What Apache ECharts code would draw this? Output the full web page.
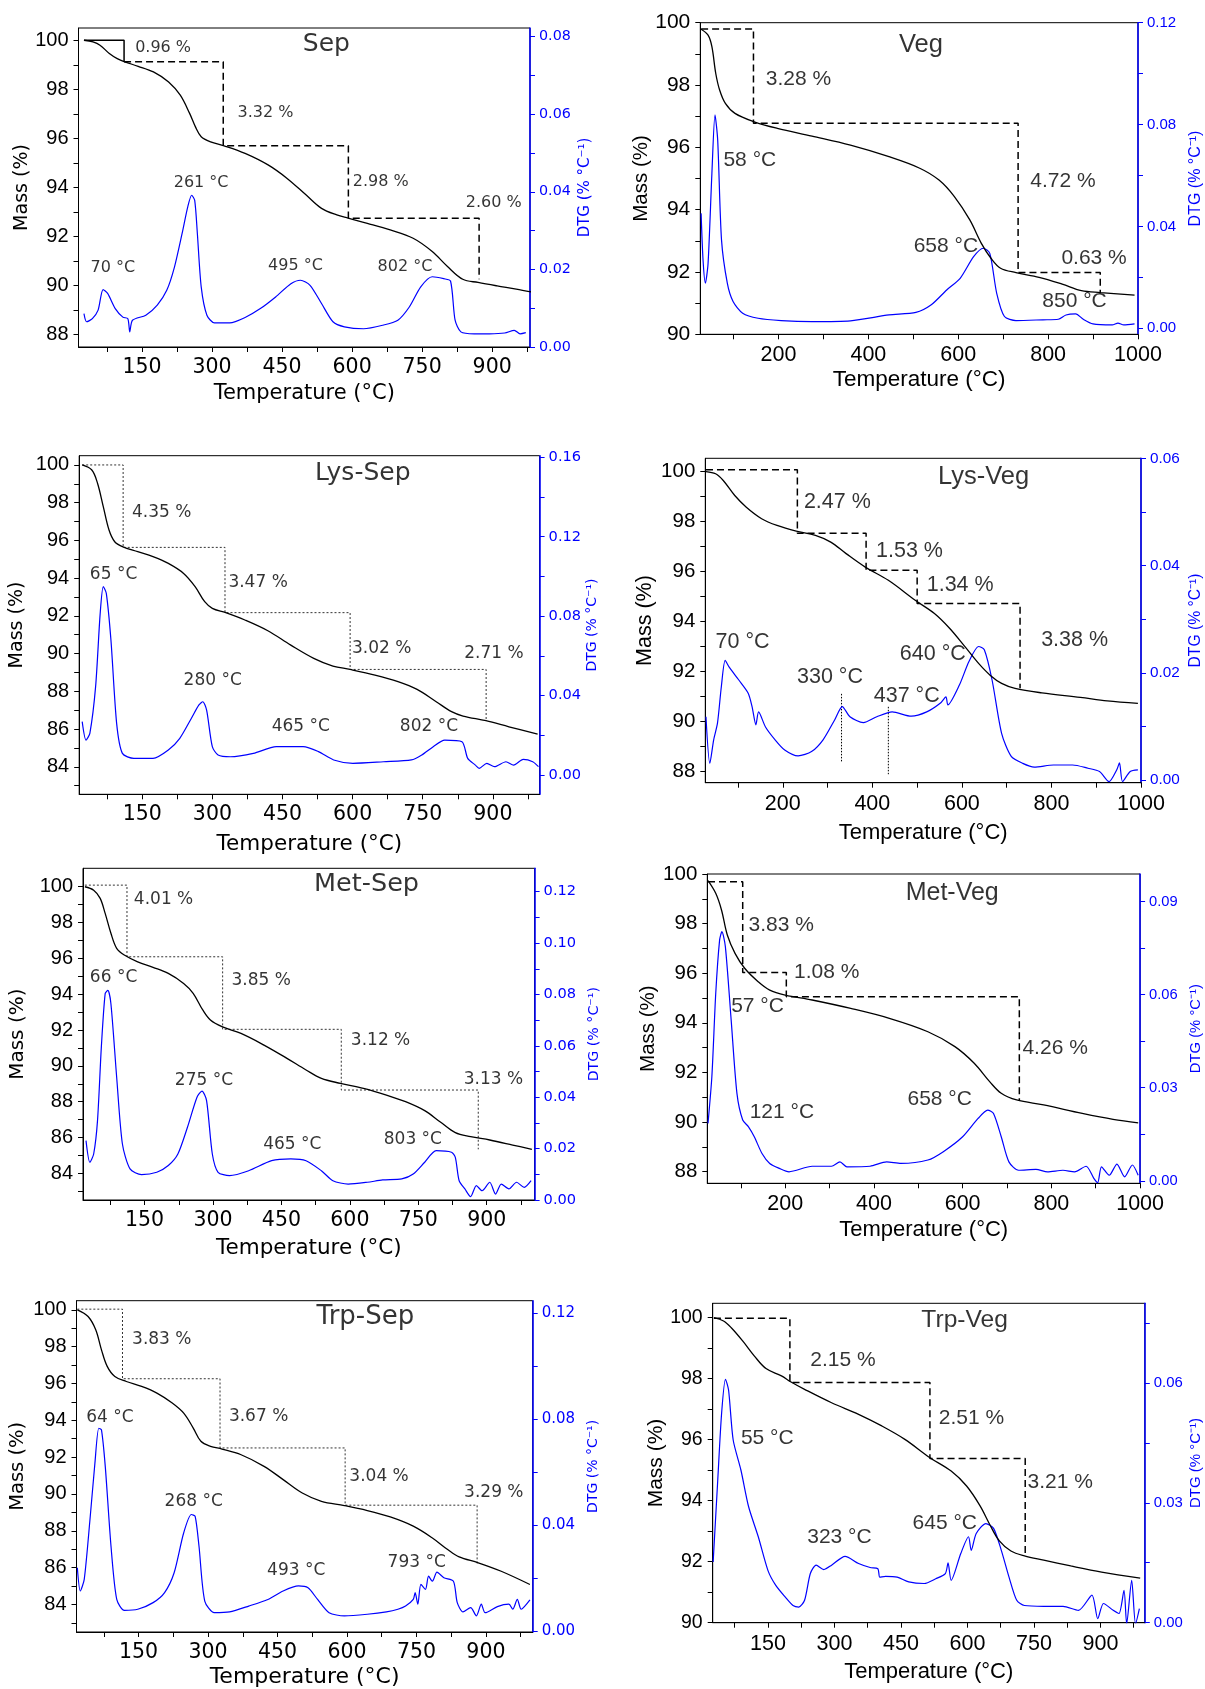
<!DOCTYPE html>
<html><head><meta charset="utf-8">
<script src="https://cdn.jsdelivr.net/npm/echarts@6/dist/echarts.min.js"></script>
<style>html,body{margin:0;padding:0;background:#fff}#c{width:1205px;height:1689px}</style>
</head><body><div id="c"></div><script>
// ---------------- tick labels ----------------
const xLabels150 = [150,300,450,600,750,900];
const xTicks75 = [75,150,225,300,375,450,525,600,675,750,825,900,975];
const xLabels200 = [200,400,600,800,1000];
const xTicks100 = [100,200,300,400,500,600,700,800,900,1000];
const massLabels88 = [88,90,92,94,96,98,100];
const massTicks88 = [88,89,90,91,92,93,94,95,96,97,98,99,100];
const massLabels90 = [90,92,94,96,98,100];
const massTicks90 = [90,91,92,93,94,95,96,97,98,99,100];
const massLabels84 = [84,86,88,90,92,94,96,98,100];
const massTicks83 = [83,84,85,86,87,88,89,90,91,92,93,94,95,96,97,98,99,100];
const dtgLabelsSep = [0,0.02,0.04,0.06,0.08];
const dtgTicksSep = [0,0.01,0.02,0.03,0.04,0.05,0.06,0.07,0.08];
const dtgLabelsVeg = [0,0.04,0.08,0.12];
const dtgTicksVeg = [0,0.02,0.04,0.06,0.08,0.10,0.12];
const dtgLabelsLysSep = [0,0.04,0.08,0.12,0.16];
const dtgTicksLysSep = [0,0.02,0.04,0.06,0.08,0.10,0.12,0.14,0.16];
const dtgLabelsLysVeg = [0,0.02,0.04,0.06];
const dtgTicksLysVeg = [0,0.01,0.02,0.03,0.04,0.05,0.06];
const dtgLabelsMetSep = [0,0.02,0.04,0.06,0.08,0.10,0.12];
const dtgTicksMetSep = [0,0.01,0.02,0.03,0.04,0.05,0.06,0.07,0.08,0.09,0.10,0.11,0.12];
const dtgLabelsMetVeg = [0,0.03,0.06,0.09];
const dtgTicksMetVeg = [0,0.015,0.03,0.045,0.06,0.075,0.09];
const dtgLabelsTrpSep = [0,0.04,0.08,0.12];
const dtgTicksTrpSep = [0,0.02,0.04,0.06,0.08,0.10,0.12];
const dtgLabelsTrpVeg = [0,0.03,0.06];
const dtgTicksTrpVeg = [0,0.015,0.03,0.045,0.06,0.075];

// ---------------- Sep ----------------
const sepMass = [[25.7,100],[45,99.93],[60,99.8],[80,99.46],[97,99.25],[113,99.12],[141.8,98.94],[174.5,98.71],[207,98.3],[232,97.76],[252,97.02],[264.5,96.47],[276.8,96.07],[297,95.86],[325.8,95.7],[370.8,95.39],[420,94.92],[460.8,94.37],[501.7,93.69],[534.5,93.15],[567.2,92.88],[591.7,92.75],[632.6,92.54],[681.6,92.27],[730.7,91.93],[771.6,91.39],[804.3,90.78],[837,90.26],[869.7,90.13],[910.6,89.99],[951.5,89.86],[985,89.74]];
const sepDtg = [[25.7,0.0086],[31.4,0.0065],[43.7,0.0073],[56,0.0095],[66.6,0.0148],[76.4,0.0138],[92.7,0.0099],[109,0.0077],[119.7,0.0073],[123.8,0.0039],[129.6,0.0069],[158.2,0.0082],[182.7,0.0108],[203,0.0146],[219.5,0.0206],[235.8,0.0292],[248,0.0361],[256.3,0.0391],[262.9,0.0378],[268.6,0.0292],[276.8,0.0155],[289,0.0082],[305.4,0.0062],[338,0.0062],[370.8,0.0076],[403.5,0.0099],[436.2,0.0129],[468.9,0.0163],[489.4,0.0172],[509.9,0.0159],[534.5,0.0112],[559,0.0065],[583.5,0.0052],[624.4,0.0047],[665.3,0.0056],[698,0.0069],[722.5,0.0103],[747,0.0155],[771.6,0.0181],[796.1,0.0176],[810.8,0.017],[820.6,0.0069],[832.9,0.0039],[861.5,0.0034],[894.2,0.0034],[926.9,0.0036],[947.4,0.0043],[959.7,0.0034],[972,0.0037]];
const sepStepsSolid = [[25.7,100],[111.6,100],[111.6,99.12]];
const sepSteps = [[111.6,99.12],[324,99.12],[324,95.7],[592,95.7],[592,92.75],[872,92.75],[872,90.26]];
const sepNotes = [[135.3,99.69,'0.96 %'],[354.5,97.04,'3.32 %'],[601.5,94.24,'2.98 %'],[843.5,93.36,'2.60 %'],[218,94.2,'261 °C'],[39.6,90.71,'70 °C'],[420,90.82,'495 °C'],[654.6,90.78,'802 °C']];
const sepTitle = [[545,99.84,'Sep']];

// ---------------- Veg ----------------
const vegMass = [[27.8,99.79],[43.3,99.6],[51.8,99.23],[60.4,98.37],[69,97.84],[81.8,97.41],[103.2,97.09],[146,96.82],[197.4,96.61],[274.5,96.36],[360.2,96.07],[445.8,95.7],[514.3,95.33],[557.2,94.95],[591.4,94.42],[625.7,93.67],[651.4,92.92],[672.8,92.44],[694.2,92.12],[728.5,91.98],[779.9,91.83],[831.3,91.61],[874.1,91.4],[917,91.34],[992.3,91.26]];
const vegDtg = [[27.8,0.0451],[32.1,0.0268],[37.3,0.0177],[43.3,0.0255],[51.8,0.0608],[58.7,0.0838],[64.7,0.0739],[73.2,0.0347],[86.1,0.0177],[98.9,0.0105],[120.3,0.0059],[154.6,0.0039],[206,0.003],[274.5,0.0026],[360.2,0.0029],[445.8,0.0052],[505.8,0.0062],[540,0.0092],[574.3,0.015],[604.3,0.0196],[634.2,0.0281],[655.7,0.0314],[670.2,0.0294],[685.6,0.0137],[702.8,0.0046],[728.5,0.003],[788.4,0.0033],[822.7,0.0035],[839.8,0.0052],[861.2,0.0056],[878.3,0.0035],[899.7,0.0017],[942.6,0.0013],[955.4,0.002],[968.3,0.0013],[992.3,0.0017]];
const vegSteps = [[27.8,99.8],[144.3,99.8],[144.3,96.77],[733.2,96.77],[733.2,91.98],[916,91.98],[916,91.32]];
const vegNotes = [[171.7,98.18,'3.28 %'],[760.2,94.9,'4.72 %'],[829.5,92.44,'0.63 %'],[77.5,95.59,'58 °C'],[500.8,92.83,'658 °C'],[787,91.05,'850 °C']];
const vegTitle = [[516.9,99.28,'Veg']];

// ---------------- Lys-Sep ----------------
const lysSepMass = [[21.4,100],[42,99.73],[54.2,99.03],[66.5,97.79],[78.8,96.55],[91,95.93],[107.4,95.67],[140.2,95.4],[172.9,95.14],[205.7,94.78],[238.4,94.25],[263,93.55],[283.5,92.75],[299.8,92.4],[328.5,92.17],[369.4,91.78],[418.6,91.21],[467.7,90.45],[516.8,89.75],[557.8,89.34],[594.6,89.16],[647.8,88.86],[697,88.51],[737.9,88.1],[778.8,87.45],[811.6,86.92],[836.2,86.69],[885.3,86.44],[934.4,86.12],[995.8,85.73]];
const lysSepDtg = [[21.4,0.0269],[29.6,0.0176],[37.8,0.021],[50.1,0.0445],[59.9,0.0814],[66.5,0.0949],[73,0.0915],[82.9,0.068],[95.1,0.026],[107.4,0.0109],[132,0.0084],[172.9,0.0084],[205.7,0.0126],[230.2,0.0185],[254.8,0.0285],[271.2,0.0353],[279.4,0.0369],[287.6,0.0327],[299.8,0.0143],[312.1,0.0101],[338.3,0.0092],[387.6,0.0109],[436.7,0.0143],[494,0.0143],[526.8,0.0118],[559.5,0.0076],[600.5,0.0059],[666,0.0067],[725.7,0.0076],[747.9,0.0101],[772.4,0.0143],[797,0.0176],[833.9,0.0168],[846.2,0.0084],[862.6,0.005],[870.7,0.0034],[887.1,0.0059],[903.5,0.0042],[928,0.0067],[944.4,0.005],[964.9,0.0079],[985.3,0.0067],[997.6,0.0042]];
const lysSepSteps = [[21.4,100],[109,100],[109,95.63],[326.9,95.63],[326.9,92.17],[594.6,92.17],[594.6,89.16],[885.6,89.16],[885.6,86.44]];
const lysSepNotes = [[127.9,97.47,'4.35 %'],[334.2,93.76,'3.47 %'],[598.7,90.28,'3.02 %'],[838.6,89.98,'2.71 %'],[37.8,94.17,'65 °C'],[238.4,88.57,'280 °C'],[426.8,86.13,'465 °C'],[701,86.13,'802 °C']];
const lysSepTitle = [[621.6,99.56,'Lys-Sep']];

// ---------------- Lys-Veg ----------------
const lysVegMass = [[28.5,100],[50,99.91],[67.1,99.64],[92.8,99.04],[118.6,98.57],[152.8,98.11],[187.1,97.84],[230,97.61],[272.9,97.44],[307.2,97.17],[341.5,96.71],[384.3,96.17],[435.8,95.64],[495.8,94.84],[538.7,94.31],[573,93.71],[607.3,92.97],[637.3,92.31],[663,91.84],[688.7,91.51],[718.7,91.31],[778.7,91.13],[864.5,90.95],[924.5,90.81],[993.1,90.71]];
const lysVegDtg = [[28.5,0.0118],[37.1,0.0031],[45.7,0.0075],[54.2,0.0106],[62.8,0.0174],[71.4,0.0223],[80,0.0211],[101.4,0.0187],[122.8,0.0162],[131.4,0.0137],[140,0.0103],[146,0.0127],[161.4,0.0099],[182.9,0.0075],[204.3,0.0056],[234.3,0.0045],[264.3,0.0053],[290,0.0075],[315.8,0.0112],[332.9,0.0137],[350,0.0118],[380,0.0107],[410,0.0118],[444.4,0.0127],[487.2,0.0119],[521.5,0.0127],[551.5,0.0143],[564.4,0.0155],[568.7,0.014],[594.4,0.0177],[615.8,0.0221],[637.3,0.0249],[650.1,0.0243],[667.3,0.0187],[688.7,0.0087],[710.2,0.0044],[735.9,0.0031],[761.6,0.0024],[804.5,0.0028],[847.3,0.0028],[881.6,0.0022],[907.3,0.0016],[928.7,-0.0003],[945.9,0.0019],[951.9,0.0032],[958.8,-0.0003],[975.9,0.0016],[993.1,0.0019]];
const lysVegSteps = [[28.5,100.07],[232.6,100.07],[232.6,97.53],[386.1,97.53],[386.1,96.04],[500.1,96.04],[500.1,94.71],[729.9,94.71],[729.9,91.31]];
const lysVegMarker330 = [[331.2,91.09],[331.2,88.37]];
const lysVegMarker437 = [[435.8,90.57],[435.8,87.87]];
const lysVegNotes = [[247.2,98.77,'2.47 %'],[408.3,96.81,'1.53 %'],[521.5,95.44,'1.34 %'],[777,93.24,'3.38 %'],[50,93.15,'70 °C'],[231.7,91.77,'330 °C'],[403.2,91.01,'437 °C'],[461.5,92.67,'640 °C']];
const lysVegTitle = [[648.4,99.8,'Lys-Veg']];

// ---------------- Met-Sep ----------------
const metSepMass = [[19.1,100],[38.4,99.81],[52.7,99.35],[63.6,98.51],[76.2,97.4],[88.8,96.56],[105.5,96.19],[134.9,95.81],[168.5,95.5],[202,95.16],[235.6,94.6],[256.5,94.05],[277.5,93.12],[294.3,92.56],[319.5,92.19],[361.4,91.81],[411.7,91.16],[462.1,90.42],[504,89.77],[537.6,89.3],[579.5,89.02],[629.9,88.74],[680.2,88.37],[722.1,88],[764.1,87.5],[797.6,86.88],[831.2,86.27],[864.7,86.05],[906.7,85.86],[957,85.58],[999,85.34]];
const metSepDtg = [[21.6,0.0231],[30,0.0147],[38.4,0.0179],[46.8,0.0309],[55.2,0.0595],[63.6,0.0803],[69.5,0.0816],[76.2,0.0764],[88.8,0.0478],[101.4,0.0218],[118.1,0.0121],[143.3,0.0099],[176.8,0.0108],[202,0.0134],[223,0.0179],[244,0.0283],[264.9,0.04],[275.8,0.0424],[285.9,0.0387],[298.5,0.0179],[311.1,0.0108],[336.2,0.0095],[378.2,0.0114],[428.5,0.0153],[470.5,0.016],[504,0.0153],[537.6,0.0114],[562.8,0.0075],[596.3,0.0062],[638.3,0.0069],[671.8,0.0078],[713.8,0.0082],[738.9,0.0101],[764.1,0.0147],[789.2,0.0192],[822.8,0.0186],[831.2,0.0166],[839.6,0.0075],[852.2,0.0043],[864.7,0.0013],[877.3,0.0056],[889.9,0.0036],[906.7,0.0069],[919.3,0.0023],[931.9,0.0062],[948.6,0.0043],[965.4,0.0069],[982.2,0.0049],[997.3,0.0075]];
const metSepSteps = [[19.1,100.09],[111.4,100.09],[111.4,96.09],[321.1,96.09],[321.1,92.04],[581.2,92.04],[581.2,88.65],[881.5,88.65],[881.5,85.34]];
const metSepNotes = [[126.5,99.26,'4.01 %'],[340.4,94.75,'3.85 %'],[602.2,91.39,'3.12 %'],[849.6,89.25,'3.13 %'],[30,94.92,'66 °C'],[216.3,89.15,'275 °C'],[410.1,85.58,'465 °C'],[674.3,85.86,'803 °C']];
const metSepTitle = [[636.6,100.15,'Met-Sep']];

// ---------------- Met-Veg ----------------
const metVegMass = [[26.1,99.73],[43.5,99.22],[56.5,98.55],[69.6,97.54],[87,96.8],[108.7,96.2],[139.1,95.66],[165.2,95.32],[200,95.12],[260.9,94.92],[347.8,94.58],[434.8,94.18],[521.7,93.64],[582.6,93.04],[626.1,92.37],[660.9,91.63],[687,91.16],[721.7,90.89],[782.6,90.69],[869.6,90.35],[939.1,90.11],[995.7,89.97]];
const metVegDtg = [[26.1,0.0185],[34.8,0.0336],[43.5,0.0604],[52.2,0.0776],[57.4,0.0803],[65.2,0.0755],[78.3,0.0518],[91.3,0.0282],[104.3,0.0196],[117.4,0.0174],[130.4,0.0142],[147.8,0.0088],[165.2,0.0056],[187,0.004],[208.7,0.0029],[260.9,0.0047],[304.3,0.0047],[323.5,0.0061],[339.1,0.0045],[391.3,0.0047],[428.7,0.0061],[460.9,0.0056],[521.7,0.0067],[556.5,0.0094],[600,0.0142],[634.8,0.0201],[656.5,0.0228],[669.6,0.0217],[687,0.0142],[704.3,0.0061],[726.1,0.0034],[765.2,0.0037],[791.3,0.0029],[826.1,0.0034],[852.2,0.0029],[878.3,0.0047],[895.7,0.0008],[904.3,-0.0006],[913,0.0045],[930.4,0.0018],[947.8,0.0054],[965.2,0.0013],[982.6,0.0051],[995.7,0.0018]];
const metVegSteps = [[26.1,99.69],[104.3,99.69],[104.3,96.03],[202.6,96.03],[202.6,95.05],[727.8,95.05],[727.8,90.89]];
const metVegNotes = [[117.4,97.94,'3.83 %'],[220,96.06,'1.08 %'],[734.8,92.97,'4.26 %'],[78.3,94.65,'57 °C'],[120,90.39,'121 °C'],[475.7,90.91,'658 °C']];
const metVegTitle = [[576.5,99.22,'Met-Veg']];

// ---------------- Trp-Sep ----------------
const trpSepMass = [[17.8,100],[41,99.64],[57.5,98.92],[69.9,97.83],[82.3,96.93],[98.8,96.38],[123.6,96.11],[156.6,95.84],[189.6,95.48],[222.7,94.94],[247.5,94.39],[268.1,93.58],[284.6,92.86],[305.3,92.59],[330.1,92.44],[371.4,92.13],[420.9,91.5],[462.2,90.78],[503.5,90.05],[544.8,89.6],[594.4,89.37],[643.9,89.1],[693.5,88.75],[743.1,88.25],[784.4,87.61],[817.4,86.98],[842.2,86.58],[883.5,86.26],[933,85.8],[995,85.08]];
const trpSepDtg = [[17.8,0.0239],[24.2,0.0151],[32.7,0.0195],[45.1,0.0421],[55.8,0.0635],[64.1,0.0766],[69.9,0.076],[78.1,0.0622],[90.5,0.032],[102.9,0.0119],[119.4,0.0078],[148.3,0.0082],[181.4,0.0107],[206.2,0.0145],[226.8,0.022],[247.5,0.0371],[264,0.044],[272.2,0.0433],[280.5,0.032],[292.9,0.0113],[313.5,0.0069],[346.6,0.0072],[387.9,0.0094],[429.2,0.0119],[462.2,0.0151],[495.3,0.017],[515.9,0.0163],[536.6,0.0119],[561.3,0.0069],[594.4,0.0057],[643.9,0.0063],[685.2,0.0072],[710,0.0082],[726.5,0.0094],[743.1,0.0119],[747.2,0.0145],[753,0.0101],[759.6,0.0176],[769.5,0.0157],[776.1,0.0207],[784.4,0.0188],[794.3,0.0222],[809.2,0.0201],[829.8,0.0188],[838.1,0.0107],[850.5,0.0072],[867,0.0088],[879.4,0.0057],[890.1,0.0101],[898.4,0.0069],[924.8,0.0092],[949.6,0.0101],[957.9,0.0082],[967.8,0.0119],[976.1,0.0082],[995,0.0117]];
const trpSepSteps = [[17.8,100.04],[115.3,100.04],[115.3,96.26],[325.9,96.26],[325.9,92.5],[596,92.5],[596,89.39],[881,89.39],[881,86.17]];
const trpSepNotes = [[136,98.41,'3.83 %'],[345,94.21,'3.67 %'],[605.1,90.96,'3.04 %'],[852.9,90.05,'3.29 %'],[36.8,94.16,'64 °C'],[206.2,89.6,'268 °C'],[427.5,85.84,'493 °C'],[687.7,86.26,'793 °C']];
const trpSepTitle = [[639.8,99.58,'Trp-Sep']];

// ---------------- Trp-Veg ----------------
const trpVegMass = [[28.2,100],[50,99.89],[67.4,99.67],[93.5,99.23],[119.6,98.74],[145.7,98.33],[180.5,98.09],[202.2,97.89],[232.7,97.65],[293.6,97.21],[354.5,96.83],[406.7,96.45],[458.9,96.01],[515.4,95.41],[563.3,94.97],[598.1,94.48],[628.5,93.83],[650.3,93.22],[672,92.68],[698.1,92.35],[728.6,92.19],[772.1,92.05],[833,91.86],[902.6,91.66],[989.6,91.46]];
const trpVegDtg = [[26.5,0.0152],[36.9,0.0357],[45.6,0.0524],[54.3,0.0609],[61.3,0.0582],[71.7,0.0457],[89.1,0.0382],[106.5,0.029],[128.3,0.0215],[150,0.0131],[167.4,0.0094],[189.2,0.0064],[206.6,0.0043],[219.6,0.0039],[232.7,0.0056],[245.7,0.0123],[258.8,0.0144],[276.2,0.0133],[293.6,0.0144],[324,0.0166],[354.5,0.0148],[380.6,0.0138],[398,0.0135],[402.3,0.0114],[415.4,0.0116],[441.5,0.0114],[467.6,0.0102],[502.4,0.0098],[528.5,0.011],[550.2,0.0123],[556.3,0.015],[563.3,0.0106],[585,0.0173],[602.4,0.0215],[608.5,0.0181],[619.8,0.0223],[641.6,0.0248],[659,0.0236],[676.4,0.0181],[693.8,0.0114],[711.2,0.0056],[728.6,0.0043],[772.1,0.0041],[815.6,0.0041],[850.4,0.0031],[880.8,0.0069],[893.9,0.001],[906.9,0.0048],[928.7,0.0031],[941.7,0.0023],[953.1,0.0081],[959.1,-0.0003],[970.4,0.0106],[979.1,-0.0003],[987.8,0.0035]];
const trpVegSteps = [[28.2,99.98],[199.6,99.98],[199.6,97.87],[515.4,97.87],[515.4,95.38],[730.3,95.38],[730.3,92.19]];
const trpVegNotes = [[245.7,98.61,'2.15 %'],[535.4,96.69,'2.51 %'],[735.5,94.59,'3.21 %'],[89.1,96.04,'55 °C'],[238.7,92.79,'323 °C'],[476.3,93.26,'645 °C']];
const trpVegTitle = [[593.7,99.91,'Trp-Veg']];

// ---------------- layout (positions, ranges, sizes, styles) ----------------
const DJ = '"DejaVu Sans", sans-serif';
const AR = '"Liberation Sans", Arial, sans-serif';
const layout = [
 {left:78.5,top:28,width:451.5,height:319,xMin:14,xMax:981,mMin:87.5,mMax:100.5,dMin:0,dMax:0.0822,fam:DJ,xf:20.5,mf:20,nf:19,xnf:21,af:16,tf:25,df:14.3,dnf:15,mGap:46,xGap:36,dGap:48,dash:'dash'},
 {left:700.3,top:22.7,width:438.7,height:311.6,xMin:26,xMax:1000,mMin:90,mMax:100,dMin:-0.0024,dMax:0.12,fam:AR,xf:21.5,mf:21,nf:20.5,xnf:22.5,af:21,tf:25.5,df:15,dnf:16,mGap:44,xGap:34,dGap:50,dash:'dash'},
 {left:79.2,top:455.7,width:460.4,height:338.6,xMin:15,xMax:1000,mMin:82.54,mMax:100.49,dMin:-0.0097,dMax:0.1608,fam:DJ,xf:20.5,mf:20,nf:19,xnf:21.5,af:17,tf:25,df:14.6,dnf:14,mGap:53,xGap:39,dGap:37,dash:'dot'},
 {left:705.3,top:458.3,width:437.9,height:324.4,xMin:27,xMax:1000,mMin:87.53,mMax:100.53,dMin:-0.0005,dMax:0.06,fam:AR,xf:21.5,mf:20.5,nf:21.5,xnf:22,af:21.5,tf:25.5,df:15.3,dnf:15.7,mGap:49,xGap:39,dGap:47,dash:'dash'},
 {left:83,top:868.3,width:451.6,height:331.7,xMin:15,xMax:1005,mMin:82.51,mMax:101.03,dMin:0,dMax:0.1291,fam:DJ,xf:20.5,mf:20,nf:20,xnf:21.5,af:17,tf:25.5,df:14.6,dnf:14.2,mGap:55,xGap:37,dGap:53,dash:'dot'},
 {left:707.3,top:874,width:432.8,height:309.3,xMin:24.5,xMax:1000,mMin:87.53,mMax:100,dMin:-0.0008,dMax:0.0989,fam:AR,xf:21.5,mf:20.5,nf:20.5,xnf:22,af:21,tf:25,df:14.7,dnf:14.8,mGap:41,xGap:36,dGap:48.5,dash:'dash'},
 {left:76.5,top:1300.7,width:456.2,height:332,xMin:16,xMax:1001,mMin:82.5,mMax:100.5,dMin:-0.0004,dMax:0.1248,fam:DJ,xf:20.5,mf:20,nf:19.5,xnf:22,af:17,tf:26,df:15,dnf:14,mGap:48.5,xGap:34,dGap:54,dash:'dot'},
 {left:712.7,top:1303.3,width:432.1,height:319.4,xMin:25.5,xMax:1000,mMin:90,mMax:100.47,dMin:0,dMax:0.0799,fam:AR,xf:21.5,mf:19.5,nf:21,xnf:22,af:21,tf:24.6,df:14.9,dnf:15,mGap:42.5,xGap:38,dGap:43.5,dash:'dash'}
];

const panels = [
 {mass:sepMass,dtg:sepDtg,steps:sepSteps,solid:sepStepsSolid,notes:sepNotes,title:sepTitle,xL:xLabels150,xT:xTicks75,mL:massLabels88,mT:massTicks88,dL:dtgLabelsSep,dT:dtgTicksSep},
 {mass:vegMass,dtg:vegDtg,steps:vegSteps,notes:vegNotes,title:vegTitle,xL:xLabels200,xT:xTicks100,mL:massLabels90,mT:massTicks90,dL:dtgLabelsVeg,dT:dtgTicksVeg},
 {mass:lysSepMass,dtg:lysSepDtg,steps:lysSepSteps,notes:lysSepNotes,title:lysSepTitle,xL:xLabels150,xT:xTicks75,mL:massLabels84,mT:massTicks83,dL:dtgLabelsLysSep,dT:dtgTicksLysSep},
 {mass:lysVegMass,dtg:lysVegDtg,steps:lysVegSteps,markers:[lysVegMarker330,lysVegMarker437],notes:lysVegNotes,title:lysVegTitle,xL:xLabels200,xT:xTicks100,mL:massLabels88,mT:massTicks88,dL:dtgLabelsLysVeg,dT:dtgTicksLysVeg},
 {mass:metSepMass,dtg:metSepDtg,steps:metSepSteps,notes:metSepNotes,title:metSepTitle,xL:xLabels150,xT:xTicks75,mL:massLabels84,mT:massTicks83,dL:dtgLabelsMetSep,dT:dtgTicksMetSep},
 {mass:metVegMass,dtg:metVegDtg,steps:metVegSteps,notes:metVegNotes,title:metVegTitle,xL:xLabels200,xT:xTicks100,mL:massLabels88,mT:massTicks88,dL:dtgLabelsMetVeg,dT:dtgTicksMetVeg},
 {mass:trpSepMass,dtg:trpSepDtg,steps:trpSepSteps,notes:trpSepNotes,title:trpSepTitle,xL:xLabels150,xT:xTicks75,mL:massLabels84,mT:massTicks83,dL:dtgLabelsTrpSep,dT:dtgTicksTrpSep},
 {mass:trpVegMass,dtg:trpVegDtg,steps:trpVegSteps,notes:trpVegNotes,title:trpVegTitle,xL:xLabels150,xT:xTicks75,mL:massLabels90,mT:massTicks90,dL:dtgLabelsTrpVeg,dT:dtgTicksTrpVeg}
];

const BLUE = '#0000ff';
const CLEAR = 'rgba(0,0,0,0)';
const grids = [], xAxes = [], yAxes = [], series = [];

panels.forEach((p, i) => {
  const L = layout[i];
  grids.push({left:L.left, top:L.top, width:L.width, height:L.height, show:true, borderColor:'#000', borderWidth:1, backgroundColor:'transparent'});
  xAxes.push({
    type:'value', gridIndex:i, min:L.xMin, max:L.xMax,
    axisLine:{show:true, onZero:false, lineStyle:{color:'#000', width:1}},
    axisTick:{show:true, inside:false, length:5, customValues:p.xT, lineStyle:{color:'#000'}},
    axisLabel:{show:true, customValues:p.xL, fontSize:L.xf, color:'#000', fontFamily:L.fam, margin:10, formatter:v => String(v)},
    splitLine:{show:false},
    name:'Temperature (°C)', nameLocation:'middle', nameGap:L.xGap,
    nameTextStyle:{fontSize:L.xnf, color:'#000', fontFamily:L.fam}
  });
  yAxes.push({
    type:'value', gridIndex:i, position:'left', min:L.mMin, max:L.mMax,
    axisLine:{show:true, onZero:false, lineStyle:{color:'#000', width:1}},
    axisTick:{show:true, inside:false, length:5, customValues:p.mT, lineStyle:{color:'#000'}},
    axisLabel:{show:true, customValues:p.mL, fontSize:L.mf, color:'#000', fontFamily:AR, margin:10, formatter:v => String(v)},
    splitLine:{show:false},
    name:'Mass (%)', nameLocation:'middle', nameGap:L.mGap, nameRotate:90,
    nameTextStyle:{fontSize:L.nf, color:'#000', fontFamily:L.fam}
  });
  yAxes.push({
    type:'value', gridIndex:i, position:'right', min:L.dMin, max:L.dMax,
    axisLine:{show:true, onZero:false, lineStyle:{color:BLUE, width:1.5}},
    axisTick:{show:true, inside:false, length:5, customValues:p.dT, lineStyle:{color:BLUE}},
    axisLabel:{show:true, customValues:p.dL, fontSize:L.df, color:BLUE, fontFamily:L.fam, margin:9, formatter:v => Number(v).toFixed(2)},
    splitLine:{show:false},
    name:'DTG (% °C⁻¹)', nameLocation:'middle', nameGap:L.dGap, nameRotate:90,
    nameTextStyle:{fontSize:L.dnf, color:BLUE, fontFamily:L.fam}
  });
  const mY = 2*i, dY = 2*i+1;
  series.push({type:'line', xAxisIndex:i, yAxisIndex:dY, data:p.dtg, showSymbol:false, smooth:0.25,
    lineStyle:{color:BLUE, width:1.2}, itemStyle:{color:BLUE}, z:3, silent:true});
  series.push({type:'line', xAxisIndex:i, yAxisIndex:mY, data:p.mass, showSymbol:false, smooth:0.35,
    lineStyle:{color:'#000', width:1.3}, itemStyle:{color:'#000'}, z:4, silent:true});
  const stepStyle = L.dash === 'dash'
    ? {color:'#000', width:1.5, type:[7,4]}
    : {color:'#333', width:1, type:[2,2]};
  series.push({type:'line', xAxisIndex:i, yAxisIndex:mY, data:p.steps, showSymbol:false, lineStyle:stepStyle, itemStyle:{color:'#000'}, z:2, silent:true});
  if (p.solid) series.push({type:'line', xAxisIndex:i, yAxisIndex:mY, data:p.solid, showSymbol:false, lineStyle:{color:'#000', width:1.5}, z:2, silent:true});
  if (p.markers) p.markers.forEach(m => series.push({type:'line', xAxisIndex:i, yAxisIndex:mY, data:m, showSymbol:false,
    lineStyle:{color:'#000', width:1, type:[1.5,1.5]}, z:2, silent:true}));
  series.push({type:'scatter', xAxisIndex:i, yAxisIndex:mY, data:p.notes, symbolSize:2, itemStyle:{color:CLEAR}, silent:true, z:5,
    label:{show:true, position:'inside', align:'left', verticalAlign:'middle', formatter:d => d.data[2], fontSize:L.af, color:'#000', fontFamily:L.fam, textBorderWidth:0}});
  series.push({type:'scatter', xAxisIndex:i, yAxisIndex:mY, data:p.title, symbolSize:2, itemStyle:{color:CLEAR}, silent:true, z:5,
    label:{show:true, position:'inside', align:'center', verticalAlign:'middle', formatter:d => d.data[2], fontSize:L.tf, color:'#000', fontFamily:L.fam, textBorderWidth:0}});
});

const chart = echarts.init(document.getElementById('c'), null, {renderer:'canvas'});
chart.setOption({backgroundColor:'#fff', animation:false, grid:grids, xAxis:xAxes, yAxis:yAxes, series:series});
</script></body></html>
